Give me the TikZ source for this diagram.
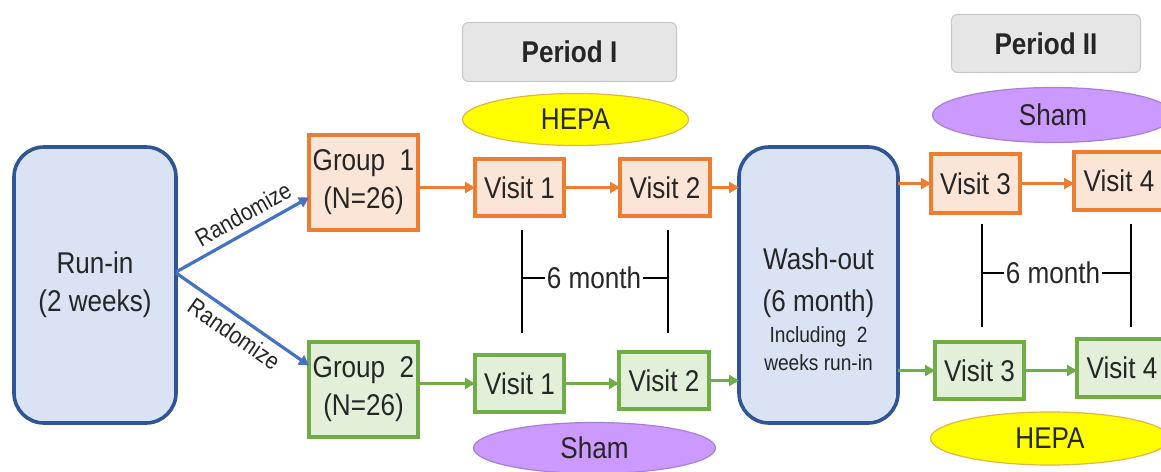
\documentclass[tikz,border=0pt]{standalone}
\usepackage{fontspec}
\setmainfont{Liberation Sans}
\usepackage{graphicx}
\usetikzlibrary{shapes.geometric,arrows.meta}
\definecolor{orB}{HTML}{ED7D31}
\definecolor{orF}{HTML}{FBE5D6}
\definecolor{grB}{HTML}{70AD47}
\definecolor{grF}{HTML}{E2F0D9}
\definecolor{blB}{HTML}{2F5597}
\definecolor{blF}{HTML}{DAE3F3}
\definecolor{blA}{HTML}{4472C4}
\definecolor{gyF}{HTML}{E7E6E6}
\definecolor{gyB}{HTML}{C9C9C9}
\definecolor{yeF}{HTML}{FFFF00}
\definecolor{yeB}{HTML}{E3B448}
\definecolor{puF}{HTML}{CC99FF}
\definecolor{puB}{HTML}{A57FD8}
\definecolor{txt}{HTML}{262626}
\newcommand{\nt}[1]{\scalebox{0.87}[1]{#1}}
\begin{document}
\begin{tikzpicture}[x=1pt,y=-1pt,
  every node/.style={inner sep=0pt,outer sep=0pt,text=txt},
  main/.style={font=\fontsize{30}{38}\selectfont},
  obox/.style 2 args={draw=orB,fill=orF,line width=3.8pt,minimum width=#1,minimum height=#2,main,align=center},
  gbox/.style 2 args={draw=grB,fill=grF,line width=3.8pt,minimum width=#1,minimum height=#2,main,align=center},
  bbox/.style 2 args={draw=blB,fill=blF,line width=3.6pt,rounded corners=30pt,minimum width=#1,minimum height=#2,main,align=center},
  pbox/.style 2 args={draw=gyB,fill=gyF,line width=1.2pt,rounded corners=6pt,minimum width=#1,minimum height=#2,font=\fontsize{30}{38}\selectfont\bfseries},
  yell/.style 2 args={ellipse,draw=yeB,fill=yeF,line width=1.2pt,minimum width=#1,minimum height=#2,main},
  purp/.style 2 args={ellipse,draw=puB,fill=puF,line width=1.2pt,minimum width=#1,minimum height=#2,main},
  oarr/.style={draw=orB,line width=3.4pt,-{Triangle[length=10pt,width=11pt]}},
  garr/.style={draw=grB,line width=3.4pt,-{Triangle[length=10pt,width=11pt]}},
  barr/.style={draw=blA,line width=3.2pt,-{Triangle[length=10pt,width=11pt]}},
  bar/.style={draw=black,line width=2.2pt},
  rlab/.style={font=\fontsize{24}{24}\selectfont,sloped}
]
\useasboundingbox (0,0) rectangle (1161,471);
\clip (0,0) rectangle (1161,471);

% main boxes
\node[bbox={162pt}{276pt}] (run) at (95,285) {\nt{Run-in}\\\nt{(2 weeks)}};
\node[obox={109pt}{95pt}] (g1) at (363.5,182.5) {\nt{Group\ \ 1}\\\nt{(N=26)}};
\node[gbox={109pt}{95pt}] (g2) at (363.5,389.5) {\nt{Group\ \ 2}\\\nt{(N=26)}};
\node[obox={89pt}{57pt}] (v1t) at (519.5,187.5) {\nt{Visit 1}};
\node[obox={90pt}{57pt}] (v2t) at (665,187.5) {\nt{Visit 2}};
\node[gbox={89pt}{57pt}] (v1b) at (519.5,383.5) {\nt{Visit 1}};
\node[gbox={90pt}{57pt}] (v2b) at (664,380.5) {\nt{Visit 2}};
\node[bbox={159pt}{276pt}] (wash) at (818.5,285) {};
\node[align=center,font=\fontsize{22}{28}\selectfont] (washtxt) at ([yshift=-24pt]wash.center)
  {{\fontsize{30}{38}\selectfont\nt{Wash-out}}\\[14pt]{\fontsize{30}{38}\selectfont\nt{(6 month)}}\\[3pt]\nt{Including\ \ 2}\\\nt{weeks run-in}};
\node[obox={89pt}{59pt}] (v3t) at (975.5,183.5) {\nt{Visit 3}};
\node[obox={90pt}{58pt}] (v4t) at (1119,181) {\nt{Visit 4}};
\node[gbox={89pt}{57pt}] (v3b) at (979.5,370.5) {\nt{Visit 3}};
\node[gbox={90pt}{58pt}] (v4b) at (1122,368) {\nt{Visit 4}};

% period headers and treatments
\node[pbox={214pt}{59pt}] (p1) at (569.5,52) {\nt{Period I}};
\node[pbox={189pt}{58pt}] (p2) at (1046,43.5) {\nt{Period II}};
\node[yell={226pt}{52pt}] (hepa1) at (575.5,119.5) {\nt{HEPA}};
\node[purp={242pt}{51pt}] (sham1) at (594.5,448) {\nt{Sham}};
\node[purp={241pt}{55pt}] (sham2) at (1053,115) {\nt{Sham}};
\node[yell={239pt}{53pt}] (hepa2) at (1050,438.5) {\nt{HEPA}};

% randomize arrows
\draw[barr] ([yshift=13pt]run.east) -- node[rlab,above=9pt,pos=0.57] (r1) {\nt{Randomize}} ([yshift=-15pt]g1.west);
\draw[barr] ([yshift=12pt]run.east) -- node[rlab,below=8pt,pos=0.51] (r2) {\nt{Randomize}} ([yshift=24pt]g2.west);

% orange arrows
\draw[oarr] (g1.east |- v1t.west) -- (v1t.west);
\draw[oarr] (v1t.east) -- (v1t.east -| v2t.west);
\draw[oarr] (v2t.east) -- (v2t.east -| wash.west);
\draw[oarr] (wash.east |- v3t.west) -- (v3t.west);
\draw[oarr] (v3t.east) -- (v3t.east -| v4t.west);

% green arrows
\draw[garr] (g2.east |- v1b.west) -- (v1b.west);
\draw[garr] (v1b.east) -- (v1b.east -| v2b.west);
\draw[garr] (v2b.east) -- (v2b.east -| wash.west);
\draw[garr] (wash.east |- v3b.west) -- (v3b.west);
\draw[garr] (v3b.east) -- (v3b.east -| v4b.west);

% 6 month brackets
\draw[bar] (522,230) -- (522,333);
\draw[bar] (668,230) -- (668,333);
\draw[bar] (522,278) -- (668,278);
\node[main,fill=white,inner xsep=2pt,inner ysep=1pt] (m1) at (594,278) {\nt{6 month}};
\draw[bar] (982,224) -- (982,327);
\draw[bar] (1131,224) -- (1131,327);
\draw[bar] (982,273) -- (1131,273);
\node[main,fill=white,inner xsep=2pt,inner ysep=1pt] (m2) at (1053,273) {\nt{6 month}};
\end{tikzpicture}
\end{document}
